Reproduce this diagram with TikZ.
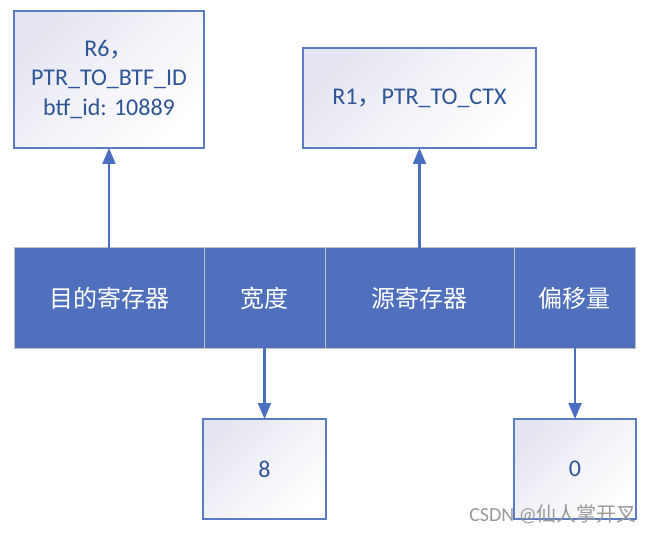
\documentclass[tikz,border=0pt]{standalone}
\usepackage{fontspec}
\setmainfont{Carlito}
\newfontfamily\cjk{Noto Sans CJK SC}
\usetikzlibrary{arrows.meta}
\definecolor{txtblue}{HTML}{2F5597}
\definecolor{boxline}{HTML}{5B7BC4}
\definecolor{barfill}{HTML}{5070BD}
\definecolor{arrowc}{HTML}{4A6FC0}
\definecolor{shadec}{HTML}{E6E6F2}
\tikzset{
  valbox/.style={draw=boxline, line width=1.8pt, top color=shadec, bottom color=white, shading angle=45,
    inner sep=0pt, outer sep=0pt, text=txtblue, align=center, font=\fontsize{24}{29.5}\selectfont},
  cell/.style={draw=black!25, line width=1pt, fill=barfill, inner sep=0pt, outer sep=0pt,
    minimum height=100pt, text=white, font=\cjk\fontsize{24}{29}\selectfont},
  conn/.style={draw=arrowc, line width=2.2pt, -{Triangle[length=16pt,width=13pt]}}
}
\begin{document}
\begin{tikzpicture}[x=1pt,y=-1pt]
\useasboundingbox (0,0) rectangle (652,534);
% bar cells
\node[cell, minimum width=190pt] (dst) at (109,298) {目的寄存器};
\node[cell, minimum width=121pt] (wid) at (264.5,298) {宽度};
\node[cell, minimum width=189pt] (src) at (419.5,298) {源寄存器};
\node[cell, minimum width=121pt] (off) at (574.5,298) {偏移量};
% value boxes
\node[valbox, minimum width=190pt, minimum height=137pt] (r6) at (109,79.5)
  {R6{\cjk ，}\\PTR\_TO\_BTF\_ID\\btf\_id: 10889};
\node[valbox, minimum width=233pt, minimum height=100pt] (r1) at (419.5,98)
  {R1{\cjk ，}PTR\_TO\_CTX};
\node[valbox, minimum width=123pt, minimum height=100pt] (w8) at (264.5,469) {8};
\node[valbox, minimum width=122pt, minimum height=100pt] (o0) at (575,469) {0};
% connectors
\draw[conn] (dst.north) -- (r6.south);
\draw[conn] (src.north) -- (r1.south);
\draw[conn] (wid.south) -- (w8.north);
\draw[conn] (off.south -| o0.north) -- (o0.north);
% watermark
\node[text=black!40, font=\fontsize{20}{24}\selectfont, anchor=east, inner sep=0pt] (wm) at (637,514)
  {CSDN @{\cjk 仙人掌开叉}};
\end{tikzpicture}
\end{document}
